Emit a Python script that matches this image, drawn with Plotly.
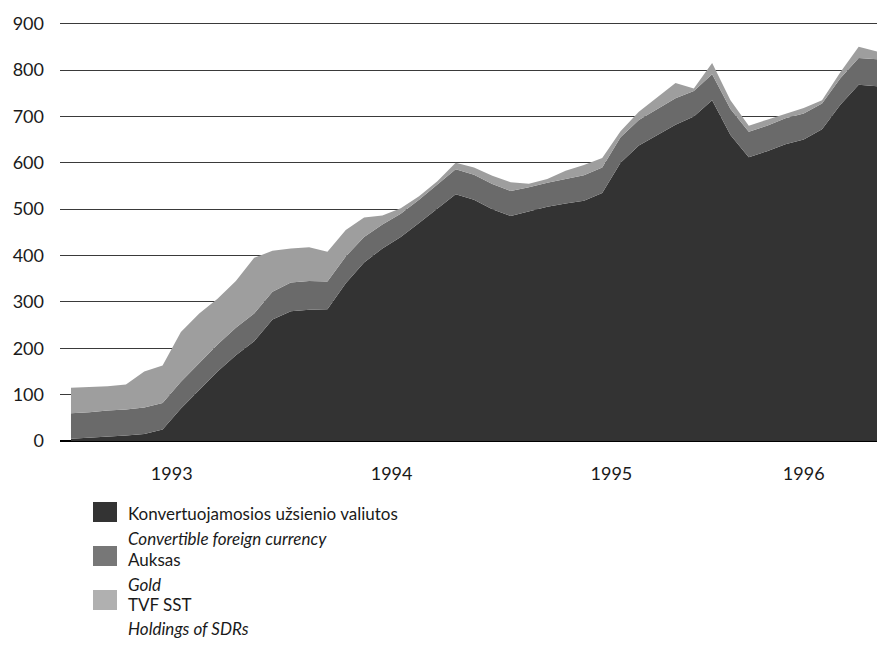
import numpy as np
import plotly.graph_objects as go

# ---- data (millions USD, month-end, Jan 1993 .. Sep 1996) ----
years = [1993, 1994, 1995, 1996]
months_per_year = [12, 12, 12, 9]
year_labels = ["1993", "1994", "1995", "1996"]

convertible = [5, 7, 10, 12, 15, 25, 70, 110, 150, 185, 215, 262,
               280, 283, 284, 340, 385, 415, 440, 470, 500, 532, 520, 500,
               485, 495, 505, 512, 518, 535, 600, 637, 660, 682, 700, 735,
               660, 612, 625, 640, 650, 672, 725, 768, 765]
gold = [55, 55, 56, 56, 57, 57, 58, 58, 58, 59, 60, 60,
        62, 62, 60, 58, 55, 52, 50, 50, 52, 54, 54, 54,
        54, 52, 52, 53, 55, 55, 55, 55, 56, 57, 55, 56,
        56, 55, 55, 56, 56, 56, 57, 58, 58]
sdr = [55, 55, 52, 54, 78, 81, 107, 107, 99, 101, 120, 88,
       73, 73, 64, 57, 42, 19, 12, 8, 8, 14, 16, 18,
       19, 8, 8, 18, 22, 20, 13, 18, 24, 33, 5, 24,
       19, 13, 13, 9, 12, 7, 13, 24, 17]

series_names = [
    ("Konvertuojamosios užsienio valiutos", "Convertible foreign currency"),
    ("Auksas", "Gold"),
    ("TVF SST", "Holdings of SDRs"),
]
colors = ["#333333", "#6a6a6a", "#9e9e9e"]
swatch_colors = ["#333333", "#777777", "#b0b0b0"]

# month index positions
x = np.arange(len(convertible))
year_of_point = np.repeat(years, months_per_year)
tick_pos = [float(x[year_of_point == y].mean()) for y in years]

FONT = "Lato"
fig = go.Figure()
for vals, (lt, en), col in zip([convertible, gold, sdr], series_names, colors):
    fig.add_trace(go.Scatter(
        x=x, y=vals, mode="lines", stackgroup="one",
        line=dict(width=0, color=col), fillcolor=col,
        name=lt, showlegend=False, hoverinfo="skip"))

W, H = 877, 671
L, R, T, B = 60, 877, 19, 441


def xp(px):
    return (px - L) / (R - L)


def yp(py):
    return (B - py) / (B - T)


shapes = []
annotations = []
sw_y = [(502, 522), (546, 566), (590, 610)]
text_y = [(513, 538), (559, 584), (604, 628)]
for (y0, y1), (ty1, ty2), (lt, en), sc in zip(sw_y, text_y, series_names, swatch_colors):
    shapes.append(dict(type="rect", xref="paper", yref="paper",
                       x0=xp(93), x1=xp(117), y0=yp(y1), y1=yp(y0),
                       fillcolor=sc, line=dict(width=0)))
    annotations.append(dict(xref="paper", yref="paper", x=xp(126), y=yp(ty1),
                            xanchor="left", yanchor="middle", showarrow=False,
                            text=lt, font=dict(family=FONT, size=17, color="#1a1a1a")))
    annotations.append(dict(xref="paper", yref="paper", x=xp(126), y=yp(ty2),
                            xanchor="left", yanchor="middle", showarrow=False,
                            text="<i>" + en + "</i>",
                            font=dict(family=FONT, size=17, color="#1a1a1a")))

fig.update_layout(
    width=W, height=H,
    margin=dict(l=L, r=W - R, t=T, b=H - B, pad=0),
    paper_bgcolor="white", plot_bgcolor="white",
    showlegend=False,
    shapes=shapes, annotations=annotations,
    xaxis=dict(range=[-0.6, 44], showgrid=False, zeroline=False, showline=False,
               tickmode="array", tickvals=tick_pos, ticktext=year_labels,
               ticks="", ticklabelstandoff=20,
               tickfont=dict(family=FONT, size=18, color="#1a1a1a")),
    yaxis=dict(range=[0, 910], tickmode="array",
               tickvals=[0, 100, 200, 300, 400, 500, 600, 700, 800, 900],
               showgrid=True, gridcolor="#3a3a3a", gridwidth=1,
               zeroline=True, zerolinecolor="#000000", zerolinewidth=2,
               showline=False, ticks="", ticklabelstandoff=15,
               tickfont=dict(family=FONT, size=18, color="#1a1a1a")),
)

fig.write_html("out.html", config={"displayModeBar": False},
               post_script="document.body.style.margin='0px';document.body.style.padding='0px';")
